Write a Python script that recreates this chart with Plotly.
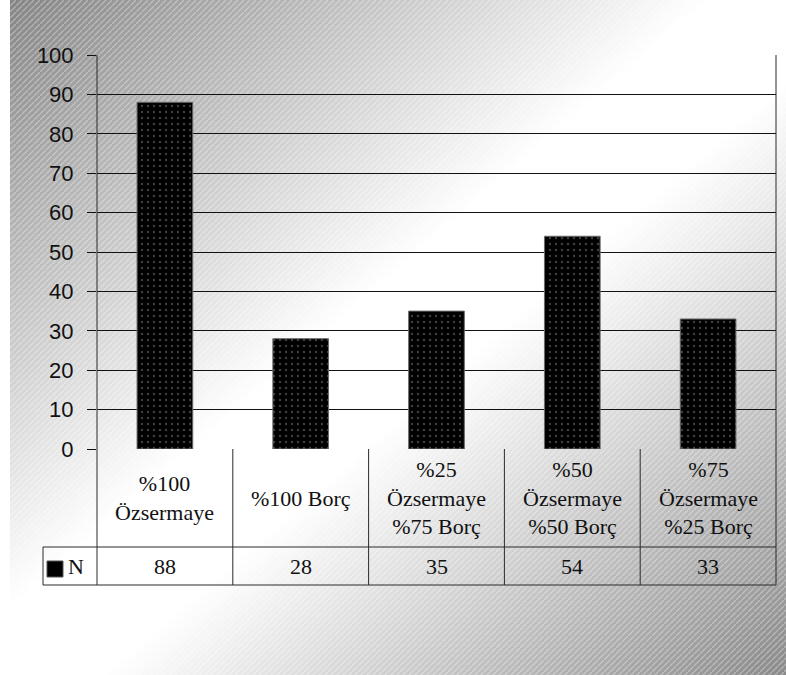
import base64
import plotly.graph_objects as go

categories = ["%100<br>Özsermaye", "%100 Borç", "%25<br>Özsermaye<br>%75 Borç",
              "%50<br>Özsermaye<br>%50 Borç", "%75<br>Özsermaye<br>%25 Borç"]
values_n = [88, 28, 35, 54, 33]
series_name = "N"
y_ticks = list(range(0, 101, 10))

W, H = 786, 675
L, R, T, B = 97, 776, 55, 449


def px(x):
    return (x - L) / (R - L)


def py(y):
    return (B - y) / (B - T)


svg = f'''<svg xmlns="http://www.w3.org/2000/svg" width="776" height="675" viewBox="0 0 776 675" preserveAspectRatio="none">
<defs>
<linearGradient id="g" x1="0" y1="0" x2="1" y2="1">
<stop offset="0" stop-color="#858585"/>
<stop offset="0.45" stop-color="#ffffff"/>
<stop offset="0.56" stop-color="#ffffff"/>
<stop offset="1" stop-color="#8a8a8a"/>
</linearGradient>
<pattern id="h" patternUnits="userSpaceOnUse" width="6" height="6">
<path d="M-1,7 L7,-1" stroke="#ffffff" stroke-opacity="0.33" stroke-width="1.3"/>
</pattern>
</defs>
<rect x="0" y="0" width="776" height="675" fill="url(#g)"/>
<rect x="0" y="0" width="776" height="675" fill="url(#h)"/>
</svg>'''
src = "data:image/svg+xml;base64," + base64.b64encode(svg.encode()).decode()

x_idx = list(range(len(categories)))

fig = go.Figure()
fig.add_trace(go.Bar(
    x=x_idx, y=values_n, name=series_name, width=0.41,
    marker=dict(color="black", line=dict(color="#6a6a6a", width=1),
                pattern=dict(shape=".", fgcolor="#808080", bgcolor="black",
                             size=6, solidity=0.12)),
    showlegend=False,
))

serif = "Liberation Serif, Times New Roman, serif"
annotations = []
for i, (c, v) in enumerate(zip(categories, values_n)):
    annotations.append(dict(x=i, y=py(498), xref="x", yref="paper", text=c,
                            showarrow=False, align="center", yanchor="middle",
                            font=dict(family=serif, size=22, color="#111")))
    annotations.append(dict(x=i, y=py(566), xref="x", yref="paper", text=str(v),
                            showarrow=False, yanchor="middle",
                            font=dict(family=serif, size=22, color="#111")))
annotations.append(dict(x=px(66), y=py(566), xref="paper", yref="paper", text=series_name,
                        showarrow=False, xanchor="left", yanchor="middle",
                        font=dict(family=serif, size=22, color="#111")))

line_col = "#2a2a2a"
shapes = []
shapes.append(dict(type="line", xref="paper", yref="paper", x0=0, x1=0, y0=py(T), y1=py(585),
                   line=dict(color=line_col, width=1)))
shapes.append(dict(type="line", xref="paper", yref="paper", x0=1, x1=1, y0=py(T), y1=py(585),
                   line=dict(color=line_col, width=1)))
for i in range(len(categories) - 1):
    shapes.append(dict(type="line", xref="x", yref="paper", x0=i + 0.5, x1=i + 0.5,
                       y0=0, y1=py(585), line=dict(color=line_col, width=1)))
for yy in (547, 585):
    shapes.append(dict(type="line", xref="paper", yref="paper", x0=px(43), x1=1,
                       y0=py(yy), y1=py(yy), line=dict(color=line_col, width=1)))
shapes.append(dict(type="line", xref="paper", yref="paper", x0=px(43), x1=px(43),
                   y0=py(547), y1=py(585), line=dict(color=line_col, width=1)))
shapes.append(dict(type="rect", xref="paper", yref="paper", x0=px(47), x1=px(63),
                   y0=py(577), y1=py(561), fillcolor="black", line=dict(color="#555", width=1)))

fig.update_layout(
    width=W, height=H,
    margin=dict(l=L, r=W - R, t=T, b=H - B, pad=0),
    paper_bgcolor="white", plot_bgcolor="rgba(0,0,0,0)",
    images=[dict(source=src, xref="paper", yref="paper", x=px(10), y=py(0),
                 sizex=(W - 10) / (R - L), sizey=H / (B - T), sizing="stretch",
                 xanchor="left", yanchor="top", layer="below")],
    xaxis=dict(range=[-0.5, len(categories) - 0.5], showticklabels=False, showgrid=False,
               zeroline=False, showline=False, ticks=""),
    yaxis=dict(range=[0, 100], tickvals=y_ticks, showgrid=True, gridcolor="#111", gridwidth=1,
               zeroline=False, showline=False, ticks="outside", ticklen=9, tickcolor="#111",
               tickfont=dict(family="Liberation Sans, Arial, sans-serif", size=22, color="#111"),
               ticklabelstandoff=9),
    annotations=annotations, shapes=shapes,
    bargap=0.59,
)

fig.write_html("out.html", config={"displayModeBar": False},
               post_script="document.body.style.margin='0';")
